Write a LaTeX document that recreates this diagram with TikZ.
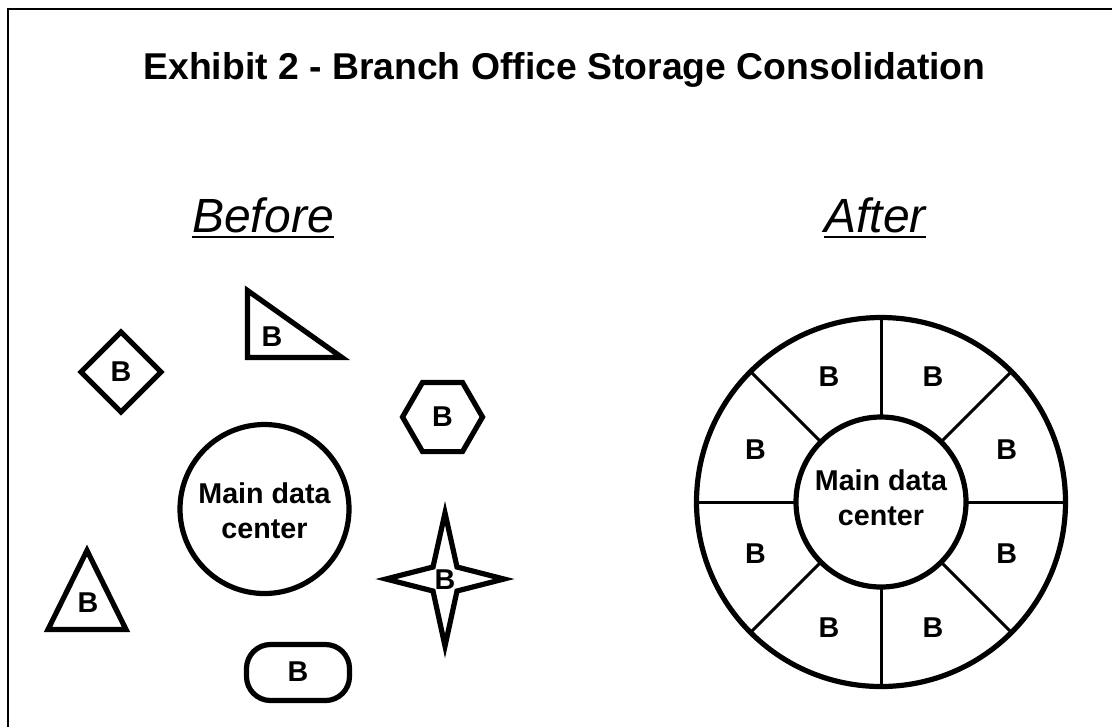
\documentclass[tikz,border=0pt]{standalone}
\usepackage{fontspec}
\setmainfont{Liberation Sans}
\begin{document}
\begin{tikzpicture}[x=0.75pt,y=-0.75pt,line join=miter,
  shapeline/.style={line width=3.9pt},
  divider/.style={line width=2.25pt},
  blabel/.style={font=\fontsize{21.5}{24}\selectfont\bfseries,inner sep=0pt},
  centerlabel/.style={font=\fontsize{21.5}{26.5}\selectfont\bfseries,align=center,inner sep=0pt},
  heading/.style={font=\fontsize{36}{40}\selectfont\itshape,inner sep=0pt,anchor=base},
  underl/.style={line width=1.5pt}]
\useasboundingbox (0,0) rectangle (1112,726);
\fill[white] (0,0) rectangle (1112,726);
\draw[line width=1.5pt] (7.5,9) rectangle (1200,800);
% title
\node[font=\fontsize{28}{32}\selectfont\bfseries,anchor=base,inner sep=0pt] (title) at (564.5,79) {Exhibit 2 - Branch Office Storage Consolidation};
% headings
\node[heading] (before) at (263,232) {Before};
\draw[underl] ([yshift=-3.75pt]before.base west) -- ([yshift=-3.75pt]before.base east);
\node[heading] (after) at (875,232) {After};
\draw[underl] ([yshift=-3.75pt]after.base west) -- ([yshift=-3.75pt]after.base east);
% ---- Before ----
% diamond
\draw[shapeline] (121,332) -- (161,372) -- (121,412) -- (81,372) -- cycle;
\node[blabel] (bdiamond) at (121,372) {B};
% right triangle
\draw[shapeline] (247.5,290.5) -- (247.5,357.5) -- (342,357.5) -- cycle;
\node[blabel] (brtri) at (272,337) {B};
% hexagon
\draw[shapeline] (482.5,417) -- (462.5,382.4) -- (422.5,382.4) -- (402.5,417) -- (422.5,451.6) -- (462.5,451.6) -- cycle;
\node[blabel] (bhex) at (442.5,417) {B};
% main circle
\draw[shapeline] (264.5,509) circle[radius=84.5];
\node[centerlabel] (main1) at (264.5,511) {Main data\\center};
% star
\draw[shapeline,miter limit=20] (445,513) -- (457,567) -- (504,579) -- (457,591) -- (445,646) -- (433,591) -- (386,579) -- (433,567) -- cycle;
\node[blabel] (bstar) at (445,580) {B};
% isosceles triangle
\draw[shapeline] (87,550.5) -- (126,629.5) -- (48,629.5) -- cycle;
\node[blabel] (btri) at (88,603) {B};
% rounded rectangle
\draw[shapeline,rounded corners=18pt] (246.5,644.5) rectangle (349.5,700.5);
\node[blabel] (bround) at (298,672) {B};
% ---- After ----
\coordinate (C) at (881,502);
\draw[shapeline] (C) circle[radius=184.5];
\foreach \a in {0,45,...,315}
  \draw[divider] ([shift={(\a:85)}]C) -- ([shift={(\a:184.5)}]C);
\draw[shapeline] (C) circle[radius=85];
\foreach \a [count=\i] in {22.5,67.5,...,337.5}
  \node[blabel] (rb\i) at ([shift={(\a:136)}]C) {B};
\node[centerlabel] (main2) at (881,498) {Main data\\center};
\end{tikzpicture}
\end{document}
